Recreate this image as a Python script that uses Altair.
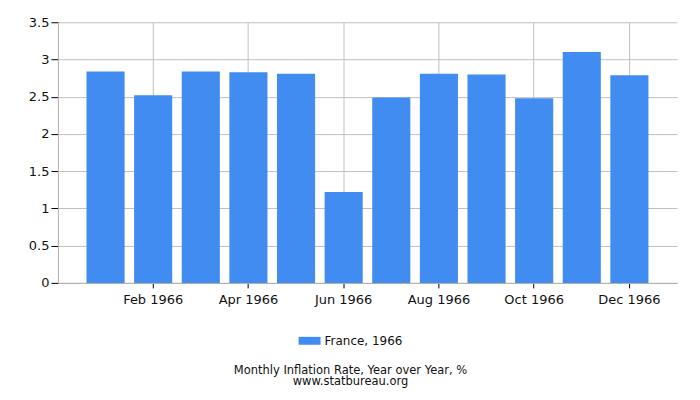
import altair as alt
import pandas as pd

months = ["Jan 1966", "Feb 1966", "Mar 1966", "Apr 1966", "May 1966", "Jun 1966",
          "Jul 1966", "Aug 1966", "Sep 1966", "Oct 1966", "Nov 1966", "Dec 1966"]
values = [2.84, 2.52, 2.84, 2.83, 2.81, 1.22, 2.49, 2.81, 2.80, 2.48, 3.10, 2.79]
series = ["France, 1966"] * 12
shown_labels = months[1::2]
y_ticks = [0, 0.5, 1, 1.5, 2, 2.5, 3, 3.5]

df = pd.DataFrame({"month": months, "value": values, "series": series})

font = "DejaVu Sans"

chart = alt.Chart(df).mark_bar(color="#418cf0").encode(
    x=alt.X("month:N", sort=months, title=None,
            scale=alt.Scale(paddingInner=0.2, paddingOuter=0.6),
            axis=alt.Axis(values=shown_labels, labelAngle=0, bandPosition=0.5,
                          grid=True, gridColor="#c0c0c0", domainColor="#b0b0b0",
                          tickColor="#000000", tickSize=5, labelPadding=6,
                          labelFont=font, labelFontSize=13, labelColor="#111111")),
    y=alt.Y("value:Q", title=None,
            scale=alt.Scale(domain=[0, 3.5], nice=False),
            axis=alt.Axis(values=y_ticks, format="~g", grid=True, gridColor="#c0c0c0",
                          domainColor="#b0b0b0", tickColor="#000000", tickSize=7,
                          labelPadding=2, labelFont=font, labelFontSize=13,
                          labelColor="#111111")),
    fill=alt.Fill("series:N", scale=alt.Scale(range=["#418cf0"]),
                  legend=alt.Legend(title=None, orient="none", legendX=241, legendY=308,
                                    symbolType="M-1,-0.36H1V0.36H-1Z", symbolSize=484,
                                    symbolStrokeWidth=0, labelFont=font, labelFontSize=12,
                                    labelColor="#111111", padding=0, labelOffset=4)),
).properties(
    width=620, height=261,
    title=alt.TitleParams(
        text=["Monthly Inflation Rate, Year over Year, %", "www.statbureau.org"],
        orient="bottom", anchor="middle", font=font, fontSize=11.5, fontWeight="normal",
        color="#111111", offset=18, lineHeight=11, dx=-17),
    autosize=alt.AutoSizeParams(type="none"),
    padding={"left": 50, "top": 14, "right": 15, "bottom": 117},
).configure_view(stroke=None)

chart.save("out.html", embed_options={"renderer": "svg", "actions": False})
